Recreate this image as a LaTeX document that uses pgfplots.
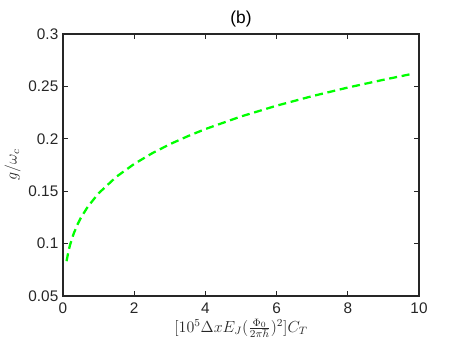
\documentclass[border=0pt]{standalone}
\usepackage{pgfplots}
\pgfplotsset{compat=1.18}
\usepackage{fontspec}
\setmainfont{Liberation Sans}
\definecolor{axgray}{rgb}{0.15,0.15,0.15}
\begin{document}
\begin{tikzpicture}
\useasboundingbox (-47.25pt,-39pt) rectangle (300pt,222pt);
\begin{axis}[
  at={(0,0)}, anchor=south west,
  scale only axis, width=267pt, height=196.5pt,
  xmin=0, xmax=10, ymin=0.05, ymax=0.3,
  xtick={0,2,4,6,8,10},
  ytick={0.05,0.1,0.15,0.2,0.25,0.3},
  yticklabels={0.05,0.1,0.15,0.2,0.25,0.3},
  tick align=inside, tick pos=both,
  major tick length=4pt,
  axis line style={axgray, line width=0.9pt},
  every tick/.style={axgray, line width=0.8pt},
  tick label style={font=\fontsize{11.5}{13}\selectfont, text=axgray},
  xticklabel style={yshift=-1.5pt},
  /pgf/number format/assume math mode=true,
  title={(b)}, title style={font=\fontsize{13}{15}\selectfont, text=black, yshift=-4pt},
  xlabel={$[10^5\Delta x E_J(\frac{\Phi_0}{2\pi\hbar})^2]C_T$},
  ylabel={$g/\omega_c$},
  label style={font=\fontsize{11.5}{13}\selectfont, text=axgray},
  xlabel style={yshift=3pt},
  ylabel style={yshift=-1pt},
]
\addplot[color={rgb,1:red,0;green,1;blue,0}, line width=1.7pt, dash pattern=on 6pt off 3.5pt] coordinates {
(0.1,0.0832) (0.15,0.0921) (0.2,0.0990) (0.3,0.1095) (0.4,0.1177) (0.5,0.1245)
(0.7,0.1354) (1.0,0.1480) (1.5,0.1638) (2,0.1760) (2.5,0.1861) (3,0.1948)
(3.5,0.2024) (4,0.2093) (5,0.2213) (6,0.2316) (7,0.2407) (8,0.2489)
(9,0.2563) (9.8,0.2619)
};
\end{axis}
\end{tikzpicture}
\end{document}
